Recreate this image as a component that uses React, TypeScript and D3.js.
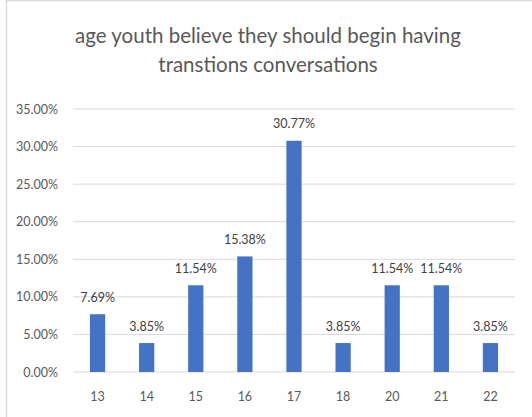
import React from "react";
import * as d3 from "d3";

const categories = ["13", "14", "15", "16", "17", "18", "20", "21", "22"];
const values = [7.69, 3.85, 11.54, 15.38, 30.77, 3.85, 11.54, 11.54, 3.85];
const yTicks = [0, 5, 10, 15, 20, 25, 30, 35];
const titleLines = ["age youth believe they should begin having", "transtions conversations"];

const W = 532;
const H = 417;
const left = 73;
const right = 515;
const top = 109;
const bottom = 372;
const font = "Lato, 'Open Sans', sans-serif";
const textColor = "#595959";

export default function App() {
  const x = d3.scaleBand<string>().domain(categories).range([left, right]).paddingInner(0.69).paddingOuter(0.345);
  const y = d3.scaleLinear().domain([0, 35]).range([bottom, top]);
  return (
    <svg width={W} height={H} style={{ position: "absolute", left: 0, top: 0 }}>
      <rect x={0} y={0} width={W} height={H} fill="#fff" />
      <rect x={6.5} y={0.5} width={W + 10} height={H + 10} fill="none" stroke="#d9d9d9" strokeWidth={1.5} />
      {titleLines.map((t, i) => (
        <text key={i} x={268} y={43 + i * 29} textAnchor="middle" fontFamily={font} fontSize={20.5} fill={textColor}>
          {t}
        </text>
      ))}
      {yTicks.map((t) => (
        <g key={t}>
          <line x1={left} x2={right} y1={y(t)} y2={y(t)} stroke="#d9d9d9" strokeWidth={1} />
          <text x={58} y={y(t) + 4.5} textAnchor="end" fontFamily={font} fontSize={12.5} fill={textColor}>
            {t.toFixed(2) + "%"}
          </text>
        </g>
      ))}
      {categories.map((c, i) => (
        <g key={c}>
          <rect x={x(c)} y={y(values[i])} width={x.bandwidth()} height={y(0) - y(values[i])} fill="#4472c4" />
          <text x={(x(c) as number) + x.bandwidth() / 2} y={y(values[i]) - 12.5} textAnchor="middle" fontFamily={font} fontSize={12.5} fill="#404040">
            {values[i].toFixed(2) + "%"}
          </text>
          <text x={(x(c) as number) + x.bandwidth() / 2} y={401} textAnchor="middle" fontFamily={font} fontSize={12.5} fill={textColor}>
            {c}
          </text>
        </g>
      ))}
    </svg>
  );
}
